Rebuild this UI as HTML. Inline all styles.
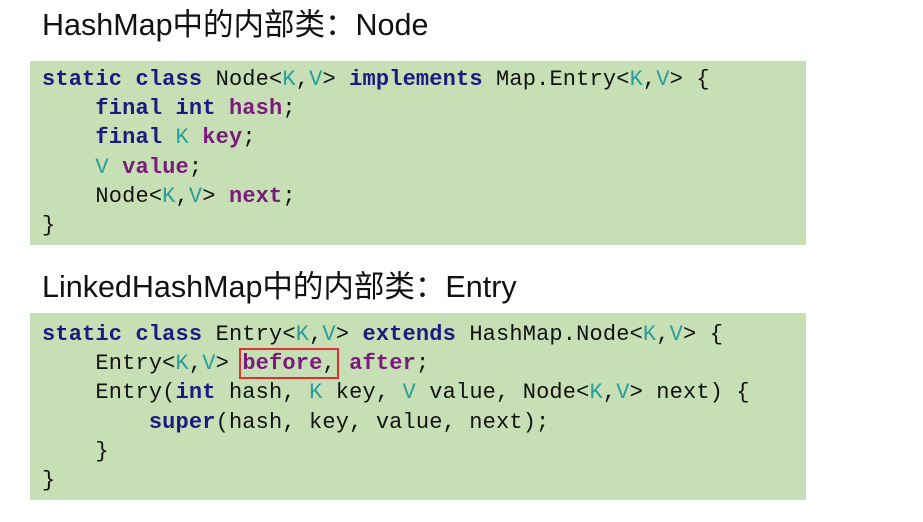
<!DOCTYPE html>
<html><head><meta charset="utf-8"><style>
body{margin:0;width:923px;height:522px;background:#fff;position:relative;overflow:hidden}
.t{position:absolute;left:42px;font:30.5px "Liberation Sans","Noto Sans CJK SC",sans-serif;color:#111;line-height:36px}
.b{position:absolute;left:30px;width:776px;background:#c6dfb4}
pre{margin:0;position:absolute;left:12px;font:22px/29.2px "Liberation Mono",monospace;letter-spacing:0.15px;color:#111}
.k{color:#1a1a80;font-weight:bold}
.g{color:#2a9d9a}
.p{color:#7a1a7a;font-weight:bold}
.r{outline:2px solid #e03030;outline-offset:1px}
</style></head><body>
<div class="t" style="top:7px">HashMap中的内部类：Node</div>
<div class="b" style="top:61px;height:184px"><pre style="top:4px"><span class="k">static class</span> Node&lt;<span class="g">K</span>,<span class="g">V</span>&gt; <span class="k">implements</span> Map.Entry&lt;<span class="g">K</span>,<span class="g">V</span>&gt; {
    <span class="k">final int</span> <span class="p">hash</span>;
    <span class="k">final</span> <span class="g">K</span> <span class="p">key</span>;
    <span class="g">V</span> <span class="p">value</span>;
    Node&lt;<span class="g">K</span>,<span class="g">V</span>&gt; <span class="p">next</span>;
}</pre></div>
<div class="t" style="top:269px">LinkedHashMap中的内部类：Entry</div>
<div class="b" style="top:313px;height:187px"><pre style="top:7px"><span class="k">static class</span> Entry&lt;<span class="g">K</span>,<span class="g">V</span>&gt; <span class="k">extends</span> HashMap.Node&lt;<span class="g">K</span>,<span class="g">V</span>&gt; {
    Entry&lt;<span class="g">K</span>,<span class="g">V</span>&gt; <span class="r"><span class="p">before</span>,</span> <span class="p">after</span>;
    Entry(<span class="k">int</span> hash, <span class="g">K</span> key, <span class="g">V</span> value, Node&lt;<span class="g">K</span>,<span class="g">V</span>&gt; next) {
        <span class="k">super</span>(hash, key, value, next);
    }
}</pre></div>
</body></html>
